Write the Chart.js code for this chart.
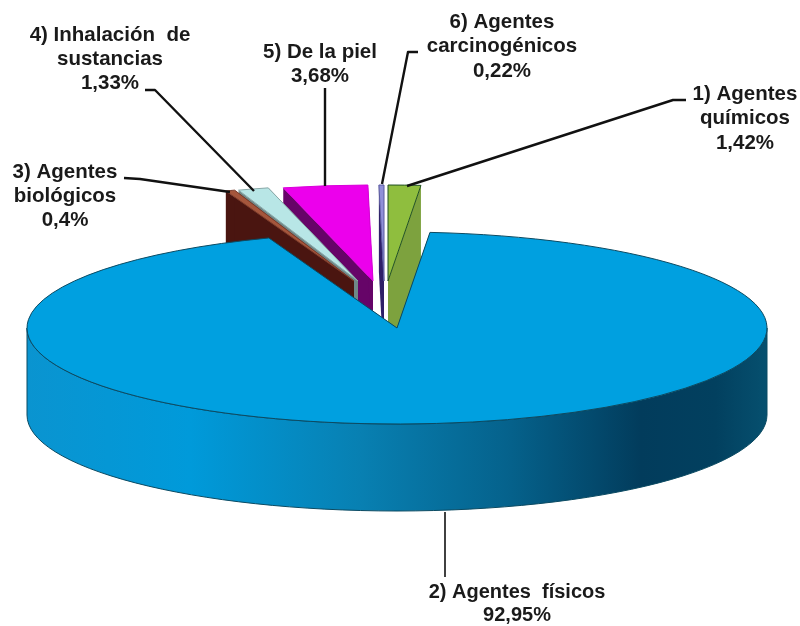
<!DOCTYPE html>
<html><head><meta charset="utf-8">
<style>html,body{margin:0;padding:0;background:#fff}canvas{display:block}</style>
<script src="https://cdn.jsdelivr.net/npm/chart.js@4"></script>
</head><body><canvas id="c" width="800" height="626"></canvas>
<script>
const categories = ["1) Agentes químicos","2) Agentes físicos","3) Agentes biológicos","4) Inhalación de sustancias","5) De la piel","6) Agentes carcinogénicos"];
const values = [1.42,92.95,0.4,1.33,3.68,0.22];
const topColors = ["#8fbe3e","#00a0e0","#a5563c","#b8e6e6","#ec00ec","#8f8fd8"];
const cutColors = ["#7da23e","#005a80","#4a1510","#6f8888","#660468","#2e1f68"];
const edgeColors = ["#1f4f22","#0b4a62","#7a3a2a","#8aa8a8","#d800d8","#5a5aa0"];

// layout (view geometry, not data)
const RX = 370, RY = 96, DEPTH = 87;
const anchors = [[388,281],[397,328],[354,281],[358,281],[373,281],[384,281]];
const drawOrder = [0,5,4,3,2,1];
const labelLayout = [
  {x:745,ys:[94,118,143],size:20.5,lines:["1) Agentes","químicos"]},
  {x:517,ys:[592,615],size:20,lines:["2) Agentes  físicos"]},
  {x:65,ys:[172,196,220],size:20.5,lines:["3) Agentes","biológicos"]},
  {x:110,ys:[35,59,83],size:20.5,lines:["4) Inhalación  de","sustancias"]},
  {x:320,ys:[52,76],size:20.5,lines:["5) De la piel"]},
  {x:502,ys:[22,46,71],size:20.5,lines:["6) Agentes","carcinogénicos"]}
];
const leaders = [
  [[686,100],[673,100],[407,186]],
  [[445,512],[445,577]],
  [[124,178],[140,179],[230,192]],
  [[145,90],[155,90],[254,191]],
  [[325,88],[325,186]],
  [[418,52],[408,52],[382,184]]
];

const pie3d = {
  id:'pie3d',
  beforeDatasetsDraw(chart){
    const ctx = chart.ctx, arcs = chart.getDatasetMeta(0).data;
    const pt = (a,ang)=>[a[0]+RX*Math.cos(ang), a[1]+RY*Math.sin(ang)];
    drawOrder.forEach(i=>{
      const el = arcs[i], a = anchors[i];
      const R = el.outerRadius, s = el.startAngle, e = el.endAngle;
      // cut faces, extruded from the slice's two radial edges
      [s,e].forEach(ang=>{
        const p = pt(a,ang);
        ctx.beginPath();
        ctx.moveTo(a[0],a[1]); ctx.lineTo(p[0],p[1]);
        ctx.lineTo(p[0],p[1]+DEPTH); ctx.lineTo(a[0],a[1]+DEPTH); ctx.closePath();
        ctx.fillStyle = cutColors[i]; ctx.fill();
      });
      // visible outer wall (front half of the ellipse)
      const ws = Math.max(s,0), we = Math.min(e,Math.PI);
      if (we>ws){
        const g = ctx.createLinearGradient(a[0]-RX,0,a[0]+RX,0);
        g.addColorStop(0,"#0a94d0"); g.addColorStop(0.22,"#009ada");
        g.addColorStop(0.45,"#0880b2"); g.addColorStop(0.65,"#05628c");
        g.addColorStop(0.83,"#023c5c"); g.addColorStop(0.93,"#02405f"); g.addColorStop(1,"#06506f");
        ctx.beginPath();
        ctx.ellipse(a[0],a[1],RX,RY,0,ws,we,false);
        ctx.ellipse(a[0],a[1]+DEPTH,RX,RY,0,we,ws,true);
        ctx.closePath();
        ctx.fillStyle = g; ctx.fill();
        ctx.lineWidth = 1; ctx.strokeStyle = edgeColors[i]; ctx.stroke();
      }
      // top face: the library's own arc, squashed into the ellipse
      ctx.save();
      ctx.translate(a[0],a[1]); ctx.scale(RX/R,RY/R); ctx.translate(-el.x,-el.y);
      el.draw(ctx);
      ctx.restore();
      ctx.beginPath();
      ctx.moveTo(a[0],a[1]);
      ctx.ellipse(a[0],a[1],RX,RY,0,s,e,false);
      ctx.closePath();
      ctx.lineWidth = 1; ctx.strokeStyle = edgeColors[i]; ctx.stroke();
    });
    // leaders
    ctx.strokeStyle = "#111"; ctx.lineJoin = "round";
    leaders.forEach((l,i)=>{
      ctx.lineWidth = i===1 ? 1.6 : 2.4;
      ctx.beginPath();
      l.forEach((p,k)=> k?ctx.lineTo(p[0],p[1]):ctx.moveTo(p[0],p[1]));
      ctx.stroke();
    });
    // labels
    ctx.fillStyle = "#1a1a1a"; ctx.textAlign = "center"; ctx.textBaseline = "middle";
    labelLayout.forEach((lab,i)=>{
      ctx.font = "bold "+lab.size+"px 'Liberation Sans', Arial, sans-serif";
      const txt = lab.lines.concat([String(values[i]).replace('.',',')+'%']);
      txt.forEach((t,k)=>ctx.fillText(t,lab.x,lab.ys[k]));
    });
    return false;
  }
};

new Chart(document.getElementById('c'),{
  type:'pie',
  data:{labels:categories,datasets:[{data:values,backgroundColor:topColors,borderWidth:0}]},
  options:{
    responsive:false,animation:false,rotation:0,
    layout:{padding:0},
    plugins:{legend:{display:false},tooltip:{enabled:false}}
  },
  plugins:[pie3d]
});
</script></body></html>
